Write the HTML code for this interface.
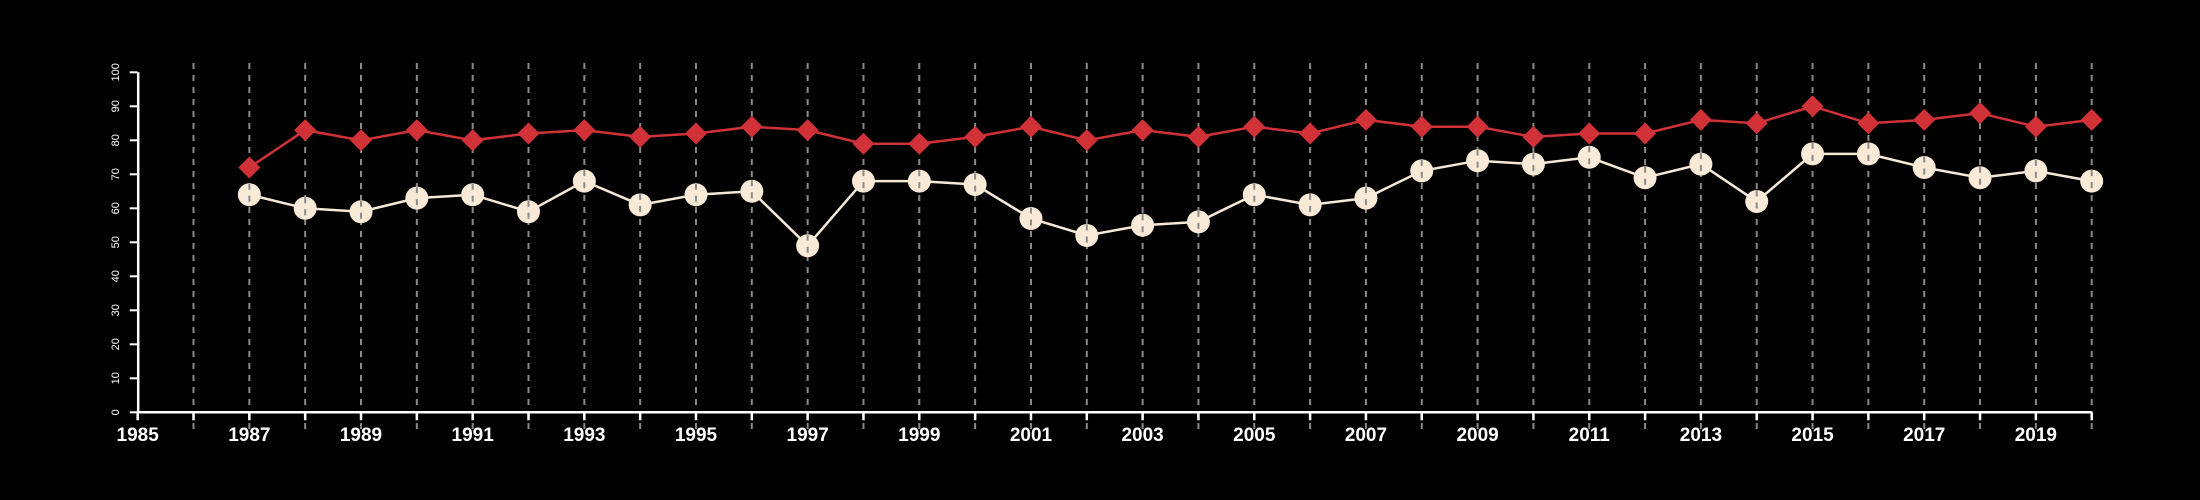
<!DOCTYPE html>
<html><head><meta charset="utf-8"><style>
html,body{margin:0;padding:0;background:#000;}
svg{display:block;}
text{font-family:"Liberation Sans",sans-serif;fill:#fff;}
</style></head><body>
<svg id="chart" width="2200" height="500" viewBox="0 0 2200 500">
<rect width="2200" height="500" fill="#000"/>
<g id="grid"></g>
<g id="axes"></g>
<g id="series"></g>
</svg>
<script>
const years = [1987,1988,1989,1990,1991,1992,1993,1994,1995,1996,1997,1998,1999,2000,2001,2002,2003,2004,2005,2006,2007,2008,2009,2010,2011,2012,2013,2014,2015,2016,2017,2018,2019,2020];
const redValues = [72,83,80,83,80,82,83,81,82,84,83,79,79,81,84,80,83,81,84,82,86,84,84,81,82,82,86,85,90,85,86,88,84,86];
const creamValues = [64,60,59,63,64,59,68,61,64,65,49,68,68,67,57,52,55,56,64,61,63,71,74,73,75,69,73,62,76,76,72,69,71,68];
const yTicks = [0,10,20,30,40,50,60,70,80,90,100];
const xTickLabels = [1985,1987,1989,1991,1993,1995,1997,1999,2001,2003,2005,2007,2009,2011,2013,2015,2017,2019];

const NS='http://www.w3.org/2000/svg';
const xMin=1985,xMax=2020,px0=137.7,px1=2091.7;
const yMin=0,yMax=100,py0=412.3,py1=72.3;
const xs=v=>px0+(v-xMin)/(xMax-xMin)*(px1-px0);
const ys=v=>py0+(v-yMin)/(yMax-yMin)*(py1-py0);
function mk(tag,attrs,parent){const e=document.createElementNS(NS,tag);for(const k in attrs)e.setAttribute(k,attrs[k]);parent.appendChild(e);return e;}
const grid=document.getElementById('grid'),axes=document.getElementById('axes'),series=document.getElementById('series');

for(let y=xMin+1;y<=xMax;y++){
  const l=mk('line',{x1:xs(y),x2:xs(y),y1:63,y2:430,stroke:'#8a8a8a','stroke-width':2,'stroke-dasharray':'6,6'},grid);
  
  
}
// axes
let a=mk('line',{x1:px0,x2:px1,y1:py0,y2:py0,stroke:'#fff','stroke-width':2.5},axes);


a=mk('line',{x1:px0+0.5,x2:px0+0.5,y1:py1,y2:py0,stroke:'#fff','stroke-width':2.5},axes);


for(let y=xMin;y<=xMax;y++){
  const t=mk('line',{x1:xs(y),x2:xs(y),y1:py0,y2:py0+8,stroke:'#fff','stroke-width':2.5},axes);
  
  
}
xTickLabels.forEach(v=>{
  const t=mk('text',{x:xs(v),y:441,'text-anchor':'middle','font-size':19,'font-weight':'bold'},axes);
  t.textContent=v;
  
  
});
yTicks.forEach(v=>{
  const t=mk('line',{x1:px0-8,x2:px0,y1:ys(v),y2:ys(v),stroke:'#fff','stroke-width':2},axes);
  
  
  const tx=mk('text',{x:0,y:0,'text-anchor':'middle','font-size':11,transform:`translate(119,${ys(v)}) rotate(-90)`},axes);
  tx.textContent=v;
  
  
});
function drawSeries(vals,color,name){
  const pts=vals.map((v,i)=>xs(years[i])+','+ys(v)).join(' ');
  const l=mk('polyline',{points:pts,fill:'none',stroke:color,'stroke-width':2.5},series);
  
  
}
drawSeries(redValues,'#d03238','red-series');
drawSeries(creamValues,'#f5e9d8','cream-series');
redValues.forEach((v,i)=>{
  const x=xs(years[i]),y=ys(v),r=11;
  const d=mk('polygon',{points:`${x},${y-r} ${x+r},${y} ${x},${y+r} ${x-r},${y}`,fill:'#d03238'},series);
  
  
});
creamValues.forEach((v,i)=>{
  const c=mk('circle',{cx:xs(years[i]),cy:ys(v),r:11.5,fill:'#f8ead6'},series);
  
  
  const g=mk('line',{x1:xs(years[i]),x2:xs(years[i]),y1:ys(v)-11,y2:ys(v)+11,stroke:'#8a8a8a','stroke-width':2,'stroke-dasharray':'6,6'},series);
  
  
});
</script>
</body></html>
